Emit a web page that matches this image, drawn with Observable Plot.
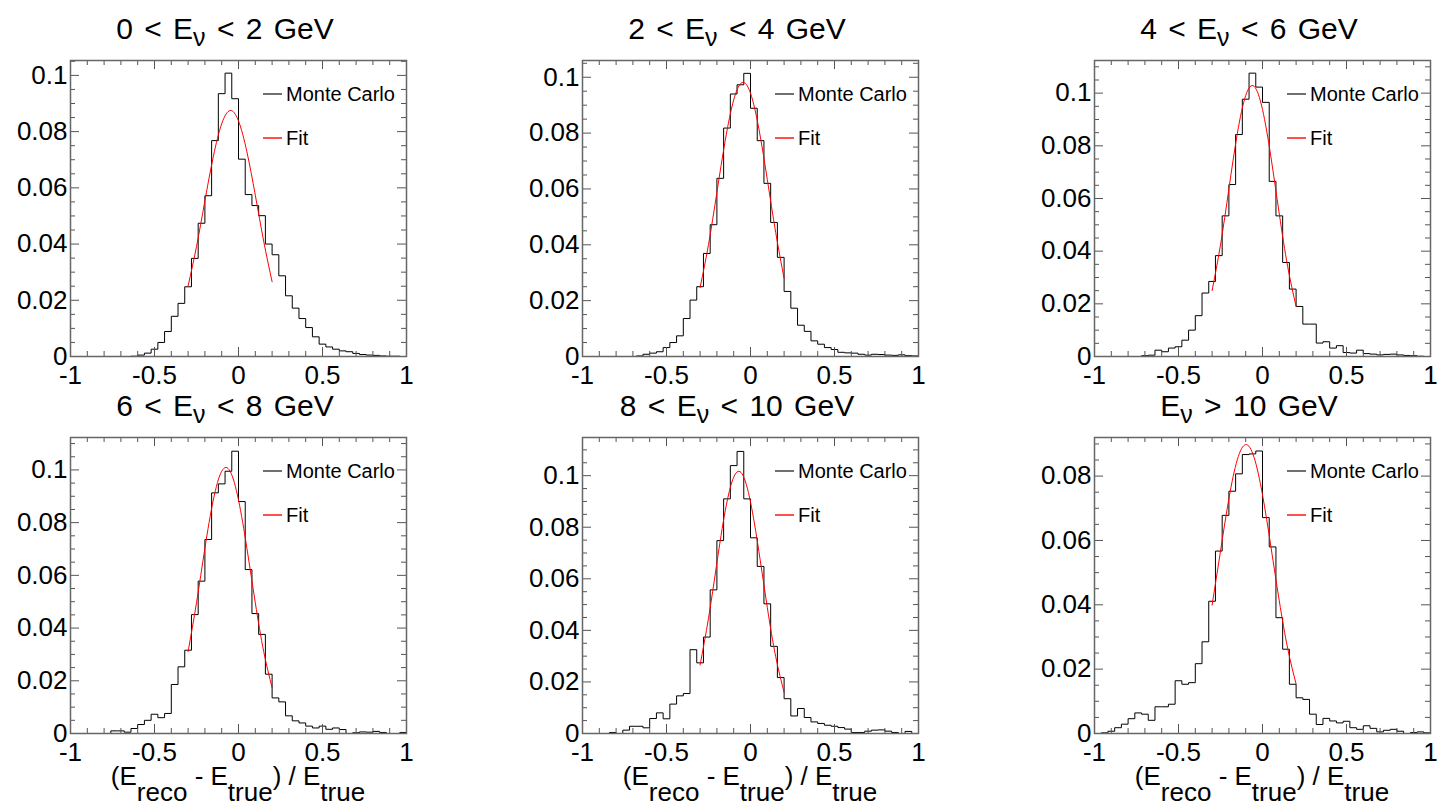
<!DOCTYPE html>
<html><head><meta charset="utf-8">
<script src="https://cdn.jsdelivr.net/npm/d3@7"></script>
<script src="https://cdn.jsdelivr.net/npm/@observablehq/plot@0.6"></script>
<style>
html,body{margin:0;padding:0;background:#fff;overflow:hidden}
#root{position:relative;width:1437px;height:806px;overflow:hidden;font-family:"Liberation Sans",Arial,Helvetica,sans-serif;color:#000;background:#fff}
.panel{position:absolute}
.panel svg{max-width:none !important;overflow:visible;background:transparent}
.title{position:absolute;font-size:30px;line-height:30px;word-spacing:3px;white-space:pre;transform:translateX(-50%)}
.title .sub{font-size:25px;position:relative;top:7px}
.xlab{position:absolute;font-size:26px;line-height:26px;white-space:pre;transform:translateX(-50%)}
.xlab .sub{position:relative;top:16px}
.leg-line{position:absolute;width:19px;height:2px}
.leg-text{position:absolute;font-size:20px;line-height:20px;white-space:pre}
</style></head>
<body><div id="root"></div>
<script>
// ---------------- data ----------------
const BIN_LO = -1, BIN_W = 0.04; // 50 bins on [-1, 1]

const mc_0_2 = [0,0,0,0,0,0,0,0,0,0.0001,
  0.0005,0.0012,0.0026,0.0050,0.0089,0.0143,0.0189,0.0248,0.0349,0.0474,
  0.0572,0.0768,0.0935,0.1008,0.0917,0.0702,0.0576,0.0537,0.0501,0.0400,
  0.0362,0.0287,0.0216,0.0172,0.0135,0.0103,0.0070,0.0044,0.0034,0.0026,
  0.0020,0.0017,0.0011,0.0007,0.0005,0.0004,0.0002,0.0001,0.0001,0];
const mc_2_4 = [0,0,0,0,0,0,0,0,0.0002,0.0008,
  0.0012,0.0017,0.0032,0.0050,0.0074,0.0136,0.0202,0.0250,0.0369,0.0472,
  0.0638,0.0818,0.0940,0.0973,0.1014,0.0889,0.0773,0.0620,0.0480,0.0355,
  0.0233,0.0173,0.0112,0.0090,0.0056,0.0044,0.0032,0.0025,0.0015,0.0013,
  0.0012,0.0008,0.0005,0.0008,0.0007,0.0005,0.0004,0.0006,0.0003,0.0002];
const mc_4_6 = [0,0,0,0,0,0,0,0.0003,0.0005,0.0024,
  0.0018,0.0032,0.0037,0.0062,0.0100,0.0155,0.0241,0.0285,0.0383,0.0534,
  0.0653,0.0843,0.0977,0.1076,0.1023,0.0965,0.0665,0.0534,0.0357,0.0256,
  0.0190,0.0123,0.0123,0.0051,0.0056,0.0032,0.0041,0.0015,0.0013,0.0024,
  0.0011,0.0009,0.0006,0.0008,0.0009,0.0006,0.0004,0.0003,0.0001,0];
const mc_6_8 = [0,0,0,0,0,0,0.0010,0.0010,0.0005,0.0019,
  0.0034,0.0050,0.0073,0.0060,0.0076,0.0186,0.0253,0.0316,0.0451,0.0578,
  0.0736,0.0913,0.0947,0.0995,0.1071,0.0880,0.0622,0.0455,0.0376,0.0225,
  0.0135,0.0120,0.0067,0.0048,0.0040,0.0028,0.0021,0.0028,0.0016,0.0021,
  0.0015,0,0.0003,0.0006,0.0005,0.0008,0.0004,0,0,0.0004];
const mc_8_10 = [0,0,0,0,0.0004,0,0.0013,0.0028,0.0028,0.0022,
  0.0058,0.0080,0.0057,0.0114,0.0146,0.0155,0.0325,0.0274,0.0374,0.0557,
  0.0748,0.0910,0.1039,0.1094,0.0910,0.0759,0.0648,0.0503,0.0338,0.0217,
  0.0135,0.0068,0.0097,0.0062,0.0045,0.0039,0.0032,0.0028,0.0023,0.0017,
  0.0004,0.0004,0.0009,0.0013,0.0014,0.0009,0.0004,0,0.0008,0];
const mc_10 = [0,0.0002,0.0007,0.0018,0.0029,0.0046,0.0064,0.0060,0.0041,0.0083,
  0.0083,0.0091,0.0164,0.0153,0.0158,0.0217,0.0285,0.0411,0.0567,0.0678,
  0.0753,0.0807,0.0867,0.0869,0.0878,0.0671,0.0580,0.0360,0.0262,0.0153,
  0.0111,0.0106,0.0060,0.0028,0.0047,0.0039,0.0033,0.0038,0.0018,0.0013,
  0.0024,0.0016,0.0005,0.0010,0.0013,0.0007,0,0.0003,0.0005,0.0002];

// fitted curve read at these x positions
const fitX = [-0.30,-0.25,-0.20,-0.15,-0.10,-0.05,0,0.05,0.10,0.15,0.20];
const fit_0_2  = [0.0251,0.0391,0.0554,0.0711,0.0828,0.0875,0.0838,0.0728,0.0574,0.0410,0.0266];
const fit_2_4  = [0.0247,0.0401,0.0588,0.0775,0.0919,0.0981,0.0943,0.0815,0.0634,0.0444,0.0280];
const fit_4_6  = [0.0250,0.0424,0.0637,0.0846,0.0991,0.1026,0.0938,0.0758,0.0541,0.0341,0.0190];
const fit_6_8  = [0.0311,0.0496,0.0703,0.0886,0.0995,0.0995,0.0886,0.0703,0.0496,0.0311,0.0174];
const fit_8_10 = [0.0266,0.0447,0.0662,0.0865,0.0994,0.1007,0.0898,0.0706,0.0489,0.0298,0.0160];
const fit_10   = [0.0399,0.0567,0.0730,0.0851,0.0898,0.0858,0.0742,0.0581,0.0412,0.0264,0.0154];

const yMax = [0.1053,0.1060,0.1124,0.1123,0.1148,0.0920];

const xTicks = [-1,-0.5,0,0.5,1];
const yTicksTall = [0,0.02,0.04,0.06,0.08,0.1];
const yTicksShort = [0,0.02,0.04,0.06,0.08];

const titleLead = ["0 < E","2 < E","4 < E","6 < E","8 < E","E"];
const titleSub = "\u03bd";
const titleTail = [" < 2 GeV"," < 4 GeV"," < 6 GeV"," < 8 GeV"," < 10 GeV"," > 10 GeV"];
const xLabelParts = [["(E",false],["reco",true],[" - E",false],["true",true],[") / E",false],["true",true]];
const legendLabels = ["Monte Carlo","Fit"];

const mcSeries = [mc_0_2, mc_2_4, mc_4_6, mc_6_8, mc_8_10, mc_10];
const fitSeries = [fit_0_2, fit_2_4, fit_4_6, fit_6_8, fit_8_10, fit_10];

// ---------------- layout ----------------
const FW = 336, FH = 296, ML = 62, MR = 10, MT = 6, MB = 38;
const colLeft = [70, 582, 1094];
const rowTop = [60, 437];
const FRAME = "#666", TICK = "#555";
const FONT = '"Liberation Sans", Arial, Helvetica, sans-serif';
const root = document.getElementById("root");

function makePanel(i) {
  const col = i % 3, row = Math.floor(i / 3);
  const fl = colLeft[col], ft = rowTop[row];
  const values = mcSeries[i];
  const hist = values.map((v, k) => ({x: BIN_LO + BIN_W * k, y: v}));
  hist.push({x: BIN_LO + BIN_W * values.length, y: values[values.length - 1]});
  const fit = fitX.map((x, j) => ({x, y: fitSeries[i][j]}));
  const ym = yMax[i];
  const yMajor = yMax[i] > 0.1 ? yTicksTall : yTicksShort;
  const yMinor = d3.range(0.005, ym, 0.005).filter(v => Math.abs(v / 0.02 - Math.round(v / 0.02)) > 1e-6);
  const xMinor = d3.range(-0.9, 1, 0.1).filter(v => Math.abs(v / 0.5 - Math.round(v / 0.5)) > 1e-6);

  const chart = Plot.plot({
    width: ML + FW + MR, height: MT + FH + MB,
    marginLeft: ML, marginRight: MR, marginTop: MT, marginBottom: MB,
    x: {domain: [-1, 1]},
    y: {domain: [0, ym]},
    style: {fontSize: "26px", fontFamily: FONT, color: "#000", background: "transparent", overflow: "visible", maxWidth: "none"},
    marks: [
      Plot.line(hist, {x: "x", y: "y", curve: "step-after", stroke: "#000", strokeWidth: 1}),
      Plot.line(fit, {x: "x", y: "y", curve: "natural", stroke: "#ff0000", strokeWidth: 1}),
      Plot.tickX(xTicks, {x: d => d, insetTop: FH - 9, stroke: TICK}),
      Plot.tickX(xTicks, {x: d => d, insetBottom: FH - 9, stroke: TICK}),
      Plot.tickX(xMinor, {x: d => d, insetTop: FH - 5, stroke: TICK}),
      Plot.tickX(xMinor, {x: d => d, insetBottom: FH - 5, stroke: TICK}),
      Plot.tickY(yMajor, {y: d => d, insetRight: FW - 9, stroke: TICK}),
      Plot.tickY(yMajor, {y: d => d, insetLeft: FW - 9, stroke: TICK}),
      Plot.tickY(yMinor, {y: d => d, insetRight: FW - 5, stroke: TICK}),
      Plot.tickY(yMinor, {y: d => d, insetLeft: FW - 5, stroke: TICK}),
      Plot.frame({stroke: FRAME, strokeWidth: 1.5}),
      Plot.axisX({ticks: xTicks, tickSize: 0, tickPadding: 9, tickFormat: d => String(d), label: null}),
      Plot.axisY({ticks: yMajor, tickSize: 0, tickPadding: 3, tickFormat: d => String(d), label: null})
    ]
  });
  const div = document.createElement("div");
  div.className = "panel";
  div.style.left = (fl - ML) + "px";
  div.style.top = (ft - MT) + "px";
  div.style.width = (ML + FW + MR) + "px";
  div.style.height = (MT + FH + MB) + "px";
  div.appendChild(chart);
  root.appendChild(div);

  // title
  const t = document.createElement("div");
  t.className = "title";
  t.style.left = (fl + FW / 2 - 13) + "px";
  t.style.top = (ft - 20.7 - 25.4) + "px";
  t.appendChild(document.createTextNode(titleLead[i]));
  const s = document.createElement("span"); s.className = "sub"; s.textContent = titleSub;
  t.appendChild(s);
  t.appendChild(document.createTextNode(titleTail[i]));
  root.appendChild(t);

  // legend
  const legY = [34, 77.5], legBase = [40.7, 85], legColor = ["#707070", "#ff5050"];
  legendLabels.forEach((lab, j) => {
    const ln = document.createElement("div");
    ln.className = "leg-line";
    ln.style.left = (fl + 193) + "px";
    ln.style.top = (ft + legY[j] - 1) + "px";
    ln.style.background = legColor[j];
    root.appendChild(ln);
    const tx = document.createElement("div");
    tx.className = "leg-text";
    tx.style.left = (fl + 216) + "px";
    tx.style.top = (ft + legBase[j] - 16.9) + "px";
    tx.textContent = lab;
    root.appendChild(tx);
  });

  // x axis title on bottom row
  if (row === 1) {
    const xl = document.createElement("div");
    xl.className = "xlab";
    xl.style.left = (fl + FW / 2) + "px";
    xl.style.top = (785 - 22) + "px";
    xLabelParts.forEach(([txt, sub]) => {
      if (sub) { const sp = document.createElement("span"); sp.className = "sub"; sp.textContent = txt; xl.appendChild(sp); }
      else xl.appendChild(document.createTextNode(txt));
    });
    root.appendChild(xl);
  }
}
for (let i = 0; i < 6; i++) makePanel(i);
</script>
</body></html>
